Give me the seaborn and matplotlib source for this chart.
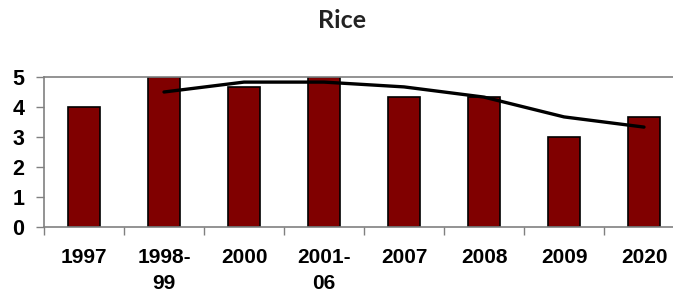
import matplotlib
matplotlib.use("Agg")
import matplotlib.pyplot as plt
import seaborn as sns
import pandas as pd
from matplotlib.ticker import FixedLocator

categories = ["1997", "1998-\n99", "2000", "2001-\n06", "2007", "2008", "2009", "2020"]
values = [4.0, 5.0, 4.67, 5.0, 4.33, 4.33, 3.0, 3.67]
trend_categories = ["1998-\n99", "2000", "2001-\n06", "2007", "2008", "2009", "2020"]
trend_values = [4.5, 4.83, 4.83, 4.67, 4.33, 3.67, 3.33]
yticks = [0, 1, 2, 3, 4, 5]

sns.set_theme(style="white")
plt.rcParams["font.family"] = ["Liberation Sans", "DejaVu Sans"]
plt.rcParams["text.color"] = "black"
plt.rcParams["xtick.labelcolor"] = "black"
plt.rcParams["ytick.labelcolor"] = "black"

fig = plt.figure(figsize=(6.73, 2.98), dpi=100)
ax = fig.add_axes([44 / 673, 71 / 298, 640 / 673, 150 / 298])

df = pd.DataFrame({"cat": categories, "val": values})
sns.barplot(data=df, x="cat", y="val", order=categories, color="#800000",
            saturation=1, width=0.4, edgecolor="black", linewidth=1.2, ax=ax)

tdf = pd.DataFrame({"pos": [categories.index(c) for c in trend_categories],
                    "val": trend_values})
sns.lineplot(data=tdf, x="pos", y="val", color="black", linewidth=2.4, ax=ax)

ax.set_xlim(-0.5, len(categories) - 0.5)
ax.set_ylim(0, 5)
ax.set_yticks(yticks)
ax.set_yticklabels([str(t) for t in yticks], fontsize=15.5, fontweight="bold", color="black")
ax.set_xticks(range(len(categories)))
ax.set_xticklabels(categories, fontsize=15, fontweight="bold", linespacing=1.45, color="black")
ax.xaxis.set_minor_locator(FixedLocator([i - 0.5 for i in range(len(categories) + 1)]))
ax.tick_params(axis="x", which="major", length=0, pad=15)
ax.tick_params(axis="x", which="minor", length=6, width=1, color="#808080", bottom=True)
ax.tick_params(axis="y", which="major", length=6, width=1, color="#808080", left=True, pad=8)
ax.set_xlabel("")
ax.set_ylabel("")

for s in ["left", "bottom", "top"]:
    ax.spines[s].set_visible(True)
    ax.spines[s].set_color("#808080")
    ax.spines[s].set_linewidth(1.2)
ax.spines["right"].set_visible(False)
ax.grid(False)

fig.text(342 / 673, 1 - 21 / 298, "Rice", ha="center", va="center",
         fontsize=18, fontweight="bold", family=["Lato", "DejaVu Sans"], color="#222222")

fig.savefig("out.png", dpi=100)
